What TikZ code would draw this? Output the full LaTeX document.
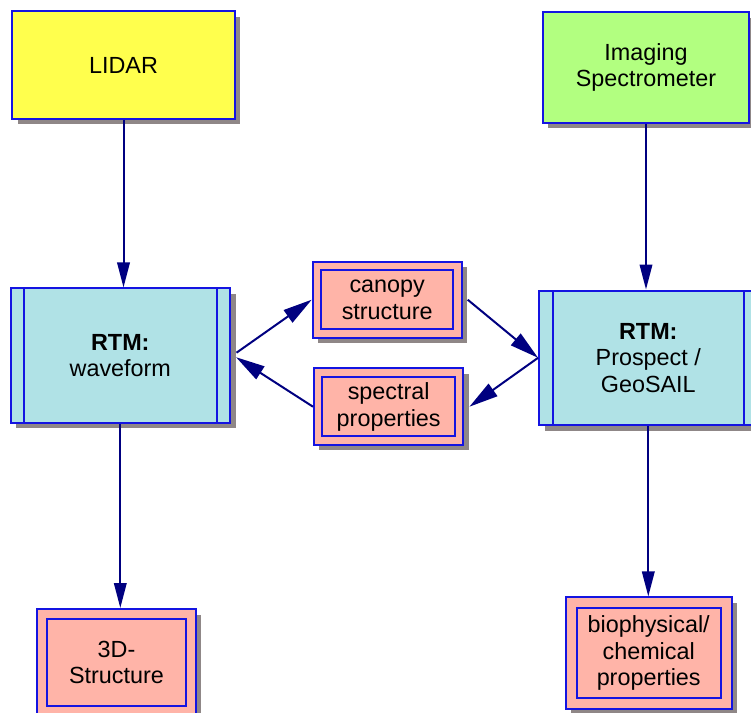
\documentclass[tikz,border=0pt]{standalone}
\usepackage{fontspec}
\setmainfont{Liberation Sans}
\usetikzlibrary{arrows.meta,shadows}

\definecolor{boxblue}{RGB}{20,20,225}
\definecolor{arrownavy}{RGB}{0,0,128}
\definecolor{lidaryellow}{RGB}{255,255,77}
\definecolor{specgreen}{RGB}{178,255,128}
\definecolor{rtmcyan}{RGB}{176,226,230}
\definecolor{datapink}{RGB}{255,180,168}
\definecolor{shadowgray}{RGB}{143,135,135}

\begin{document}
\begin{tikzpicture}[x=0.02cm, y=-0.02cm,
    every node/.style={draw=boxblue, line width=0.04cm, align=center, inner sep=0pt,
        font=\fontsize{13.3}{15.2}\selectfont,
        drop shadow={shadow xshift=0.11cm, shadow yshift=-0.11cm, opacity=1, fill=shadowgray}},
    sensor/.style={fill=#1},
    rtm/.style={fill=rtmcyan, path picture={
        \draw[boxblue, line width=0.04cm]
            ([xshift=0.27cm]path picture bounding box.north west) -- ([xshift=0.27cm]path picture bounding box.south west)
            ([xshift=-0.27cm]path picture bounding box.north east) -- ([xshift=-0.27cm]path picture bounding box.south east);}},
    product/.style={fill=datapink, path picture={
        \draw[boxblue, line width=0.04cm]
            ([shift={(#1,-#1)}]path picture bounding box.north west) rectangle ([shift={(-#1,#1)}]path picture bounding box.south east);}},
    product/.default=0.17cm,
    flow/.style={draw=arrownavy, line width=0.04cm, -{Triangle[length=0.5cm,width=0.25cm]}},
    cross/.style={flow, -{Triangle[length=0.58cm,width=0.3cm]}}]
    \useasboundingbox (0,0) rectangle (751,713);

    % sensors
    \node[sensor=lidaryellow, minimum width=4.46cm, minimum height=2.16cm] (lidar) at (123.5,65) {LIDAR};
    \node[sensor=specgreen, minimum width=4.14cm, minimum height=2.21cm] (spectro) at (646,67.5) {Imaging\\Spectrometer};

    % models
    \node[rtm, minimum width=4.39cm, minimum height=2.69cm] (rtmL) at (120.3,355.7) {\textbf{RTM:}\\waveform};
    \node[rtm, minimum width=4.37cm, minimum height=2.69cm] (rtmR) at (648.3,357.8) {\textbf{RTM:}\\Prospect /\\GeoSAIL};

    % exchanged parameters
    \node[product, minimum width=2.98cm, minimum height=1.52cm] (canopy) at (387.2,299.7) {canopy\\structure};
    \node[product, minimum width=2.99cm, minimum height=1.53cm] (spectral) at (388.7,406.7) {spectral\\properties};

    % products
    \node[product=0.2cm, minimum width=3.17cm, minimum height=2.14cm] (struct3d) at (116.5,662.5) {3D-\\Structure};
    \node[product=0.22cm, minimum width=3.32cm, minimum height=2.23cm] (biochem) at (648.7,653.2) {biophysical/\\chemical\\properties};

    \draw[flow] (lidar.south) -- (lidar.south |- rtmL.north);
    \draw[flow] (spectro.south) -- (spectro.south |- rtmR.north);
    \draw[flow] (rtmL.south) -- (rtmL.south |- struct3d.north);
    \draw[flow] (rtmR.south) -- (rtmR.south |- biochem.north);

    \draw[cross] ([xshift=0.11cm,yshift=0.06cm]rtmL.east) -- (canopy.west);
    \draw[cross] ([xshift=0.1cm]canopy.east) -- (rtmR.west);
    \draw[cross] (rtmR.west) -- ([xshift=0.1cm]spectral.east);
    \draw[cross] (spectral.west) -- ([xshift=0.1cm,yshift=-0.03cm]rtmL.east);
\end{tikzpicture}
\end{document}
